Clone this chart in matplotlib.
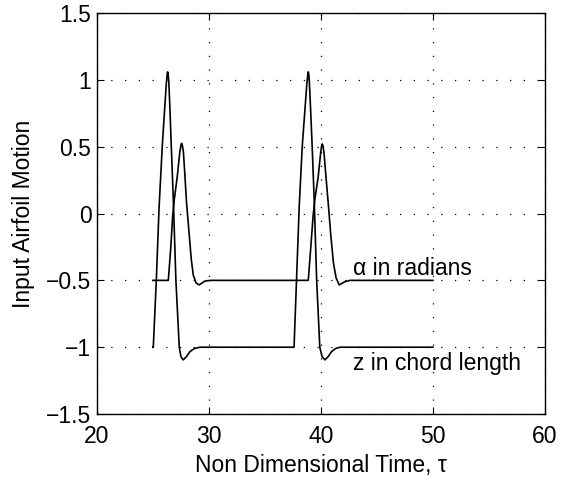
import numpy as np
import matplotlib.pyplot as plt

plt.rcParams['font.family'] = ['Liberation Sans', 'DejaVu Sans']

# alpha (radians)
alpha_tau = [25.0, 26.37, 26.58, 26.76, 26.9, 27.17, 27.4, 27.5, 27.56, 27.63, 27.72, 27.86,
             28.0, 28.24, 28.42, 28.6, 28.85, 29.13, 29.64, 30.2,
             38.87, 39.08, 39.3, 39.45, 39.76, 39.97, 40.06, 40.12, 40.19, 40.28, 40.45,
             40.65, 40.9, 41.12, 41.35, 41.63, 42.14, 42.6, 50.0]
alpha_val = [-0.5, -0.5, -0.27, -0.02, 0.1, 0.276, 0.46, 0.51, 0.525, 0.51, 0.46, 0.276,
             0.08, -0.16, -0.34, -0.46, -0.52, -0.534, -0.505, -0.5,
             -0.5, -0.27, -0.02, 0.1, 0.276, 0.45, 0.505, 0.52, 0.505, 0.45, 0.276,
             0.08, -0.18, -0.37, -0.48, -0.534, -0.51, -0.5, -0.5]

# z (chord lengths)
z_tau = [25.0, 25.03, 25.3, 25.55, 25.83, 26.04, 26.2, 26.27, 26.31, 26.36, 26.42, 26.52,
         26.64, 26.82, 27.05, 27.35, 27.5, 27.7, 28.0, 28.3, 28.7, 29.2,
         37.6, 37.82, 38.06, 38.33, 38.57, 38.75, 38.83, 38.87, 38.92, 38.97, 39.08,
         39.22, 39.4, 39.62, 39.9, 40.1, 40.36, 40.65, 40.95, 41.3, 41.7, 50.0]
z_val = [-1.0, -1.0, -0.5, 0.05, 0.5, 0.775, 0.98, 1.04, 1.06, 1.04, 0.98, 0.775,
         0.5, 0.1, -0.5, -1.0, -1.07, -1.095, -1.07, -1.033, -1.01, -1.0,
         -1.0, -0.5, 0.05, 0.5, 0.775, 0.98, 1.04, 1.06, 1.04, 0.98, 0.775,
         0.5, 0.1, -0.5, -1.0, -1.07, -1.095, -1.07, -1.033, -1.01, -1.0, -1.0]

xticks = [20, 30, 40, 50, 60]
yticks = [-1.5, -1, -0.5, 0, 0.5, 1, 1.5]
ytick_labels = ['\u22121.5', '\u22121', '\u22120.5', '0', '0.5', '1', '1.5']

fig = plt.figure(figsize=(5.67, 4.82), dpi=100)
ax = fig.add_axes([0.171, 0.141, 0.79, 0.832])

ax.plot(alpha_tau, alpha_val, color='black', lw=1.2)
ax.plot(z_tau, z_val, color='black', lw=1.2)

ax.set_xlim(20, 60)
ax.set_ylim(-1.5, 1.5)
ax.set_xticks(xticks)
ax.set_xticklabels([str(t) for t in xticks])
ax.set_yticks(yticks)
ax.set_yticklabels(ytick_labels)

ax.grid(True, color='black', lw=0.9, linestyle=(0, (1, 10)))
ax.tick_params(direction='in', top=True, right=True, length=5, width=0.8,
               labelsize=16.5)
ax.tick_params(axis='x', pad=8)
ax.tick_params(axis='y', pad=4)
for s in ax.spines.values():
    s.set_linewidth(1.0)

ax.text(42.86, -0.46, '\u03b1 in radians', fontsize=16.5, ha='left', va='baseline')
ax.text(42.86, -1.17, 'z in chord length', fontsize=16.5, ha='left', va='baseline')

ax.set_xlabel('Non Dimensional Time, \u03c4', fontsize=16.5, labelpad=4)
ax.set_ylabel('Input Airfoil Motion', fontsize=16.5, labelpad=8)

fig.savefig('out.png', dpi=100)
